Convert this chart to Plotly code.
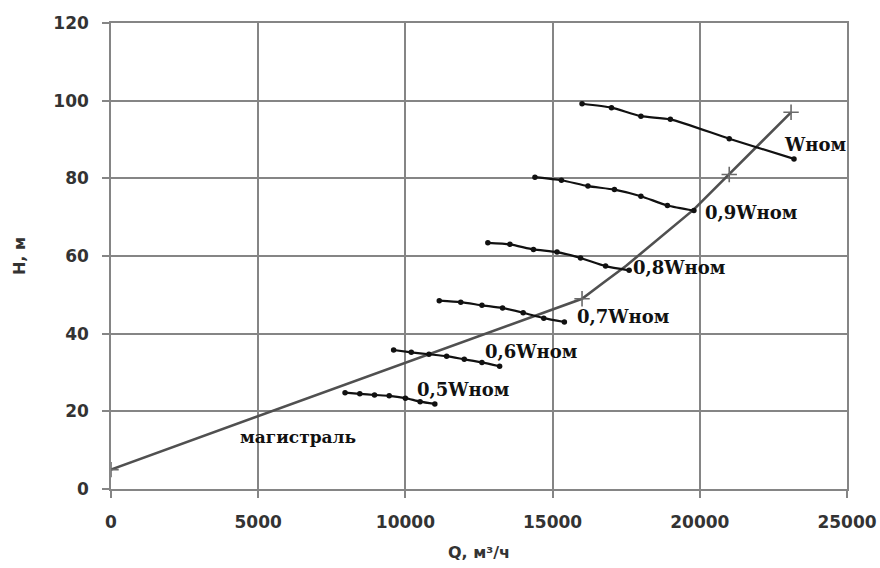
import plotly.graph_objects as go

# Pump characteristics at different speeds (Q, m3/h ; H, m)
q_100 = [16000, 17000, 18000, 19000, 21000, 23200]
h_100 = [99.2, 98.2, 96.0, 95.2, 90.2, 85.0]

q_090 = [14400, 15300, 16200, 17100, 18000, 18900, 19800]
h_090 = [80.3, 79.5, 78.0, 77.1, 75.4, 73.0, 71.7]

q_080 = [12800, 13550, 14350, 15150, 15950, 16800, 17600]
h_080 = [63.4, 63.0, 61.7, 61.0, 59.5, 57.4, 56.3]

q_070 = [11150, 11880, 12600, 13300, 14000, 14700, 15400]
h_070 = [48.5, 48.1, 47.3, 46.6, 45.4, 44.0, 43.0]

q_060 = [9600, 10200, 10800, 11400, 12000, 12600, 13200]
h_060 = [35.8, 35.2, 34.7, 34.2, 33.4, 32.6, 31.6]

q_050 = [7950, 8450, 8950, 9450, 10000, 10500, 11000]
h_050 = [24.8, 24.5, 24.2, 24.0, 23.4, 22.5, 21.9]

# Pipeline (магистраль) characteristic
q_main = [0, 16000, 16700, 17500, 19800, 21000, 23100]
h_main = [5.0, 49.0, 53.0, 57.5, 72.0, 81.0, 97.0]
main_marker_idx = [0, 1, 5, 6]

curve_labels = ["Wном", "0,9Wном", "0,8Wном", "0,7Wном", "0,6Wном", "0,5Wном"]
label_q = [22800, 20100, 17650, 15750, 12650, 10330]
label_h = [88.7, 71.2, 57.0, 44.4, 35.4, 25.6]
main_label = "магистраль"
main_label_q = [4300]
main_label_h = [13.5]

x_ticks = [0, 5000, 10000, 15000, 20000, 25000]
y_ticks = [0, 20, 40, 60, 80, 100, 120]

fig = go.Figure()

fig.add_trace(go.Scatter(
    x=q_main, y=h_main, mode="lines",
    line=dict(color="#505050", width=2.6),
    hoverinfo="skip", showlegend=False))
fig.add_trace(go.Scatter(
    x=[q_main[i] for i in main_marker_idx],
    y=[h_main[i] for i in main_marker_idx],
    mode="markers",
    marker=dict(symbol="cross-thin", size=11, line=dict(color="#6a6a6a", width=1.6)),
    showlegend=False))

for qs, hs in [(q_100, h_100), (q_090, h_090), (q_080, h_080),
               (q_070, h_070), (q_060, h_060), (q_050, h_050)]:
    fig.add_trace(go.Scatter(
        x=qs, y=hs, mode="lines+markers",
        line=dict(color="#111111", width=2.2, shape="spline", smoothing=0.6),
        marker=dict(symbol="circle", size=5.5, color="#111111"),
        showlegend=False))

label_font = dict(family="DejaVu Serif", size=18, color="#111111")
for txt, qx, hy in zip(curve_labels, label_q, label_h):
    fig.add_annotation(x=qx, y=hy, text="<b>" + txt + "</b>", showarrow=False,
                       xanchor="left", yanchor="middle", font=label_font)
fig.add_annotation(x=main_label_q[0], y=main_label_h[0], text="<b>" + main_label + "</b>",
                   showarrow=False, xanchor="left", yanchor="middle",
                   font=dict(family="DejaVu Serif", size=17, color="#111111"))

axis_common = dict(
    showgrid=True, gridcolor="#858585", gridwidth=1.6,
    showline=True, linecolor="#858585", linewidth=1.6, mirror=True,
    ticks="outside", ticklen=7, tickcolor="#858585", tickwidth=1.6,
    zeroline=False, automargin=False,
    tickfont=dict(family="DejaVu Sans", size=17, color="#333333", weight="bold"),
)

fig.update_xaxes(range=[0, 25000], tickvals=x_ticks, ticktext=[str(v) for v in x_ticks],
                 ticklabelstandoff=10,
                 title=dict(text="<b>Q, м³/ч</b>", standoff=16,
                            font=dict(family="DejaVu Sans", size=16, color="#333333")),
                 **axis_common)
fig.update_yaxes(range=[0, 120], tickvals=y_ticks, ticktext=[str(v) for v in y_ticks],
                 ticklabelstandoff=10,
                 title=dict(text="<b>H, м</b>", standoff=24,
                            font=dict(family="DejaVu Sans", size=16, color="#333333")),
                 **axis_common)

fig.update_layout(
    width=880, height=568,
    margin=dict(l=111, r=33, t=23, b=79, autoexpand=False),
    plot_bgcolor="white", paper_bgcolor="white",
    showlegend=False,
)

fig.write_html("out.html")
